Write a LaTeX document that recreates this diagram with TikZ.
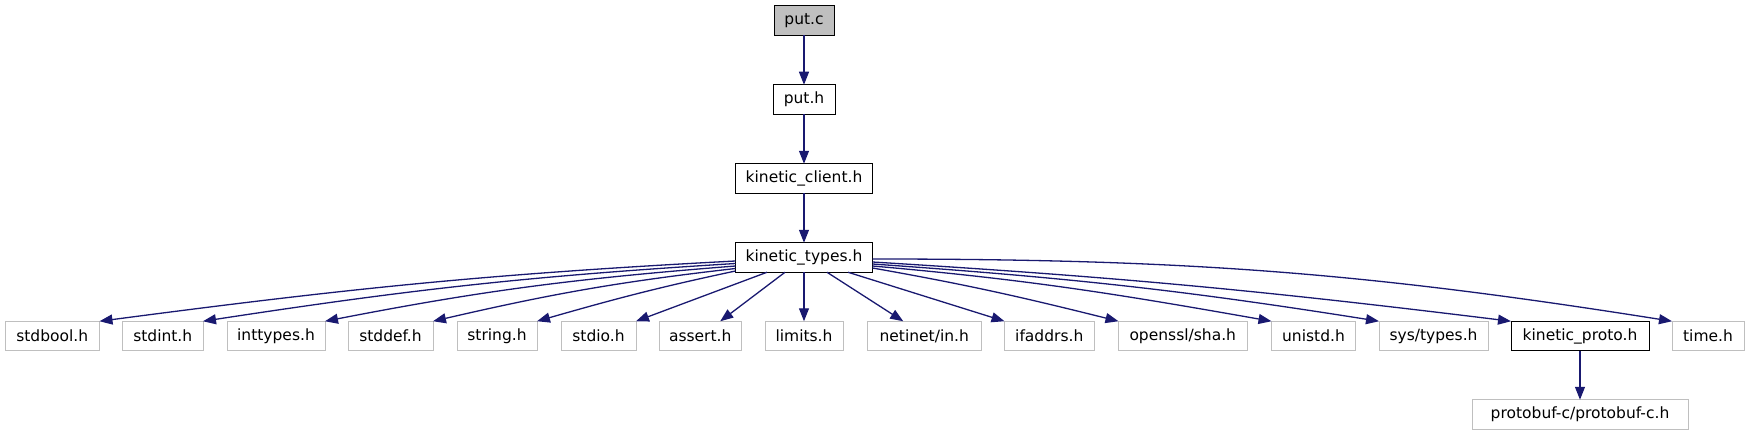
\documentclass[tikz,border=0pt]{standalone}
\usepackage{fontspec}
\setmainfont{DejaVu Sans}
\usetikzlibrary{arrows.meta}
\definecolor{boxgray}{RGB}{191,191,191}
\definecolor{linkblue}{RGB}{25,25,112}
\begin{document}
\begin{tikzpicture}[x=1pt,y=-1pt,>={Triangle[length=13pt,width=10pt]}]

\tikzstyle{hnode}=[rectangle,inner sep=0pt,outer sep=0pt,minimum height=29.5pt,line width=1pt,draw=black,font=\fontsize{15.5}{18}\selectfont]
\tikzstyle{sysnode}=[hnode,draw=boxgray]
\tikzstyle{srcnode}=[hnode,fill=boxgray]
\tikzstyle{dep}=[->,line width=1.3pt,color=linkblue]

\useasboundingbox (0,0) rectangle (1749,436);

\begin{scope}[]

\node [hnode,minimum width=137pt] (kt) at (804,257.5){kinetic\_types.h};
\node [anchor=south,hnode,minimum width=137pt] (kc) at ([xshift=0pt,yshift=49.5pt]kt.north){kinetic\_client.h};
\node [anchor=south,hnode,minimum width=62pt] (ph) at ([xshift=0pt,yshift=49.5pt]kc.north){put.h};
\node [anchor=south,srcnode,minimum width=60pt] (pc) at ([xshift=0pt,yshift=49.5pt]ph.north){put.c};

\node [anchor=west,sysnode,minimum width=94.5pt] (sb) at (5,336){stdbool.h};
\node [anchor=west,sysnode,minimum width=80.5pt] (si) at ([xshift=23pt,yshift=0pt]sb.east){stdint.h};
\node [anchor=west,sysnode,minimum width=98pt] (it) at ([xshift=24pt,yshift=0pt]si.east){inttypes.h};
\node [anchor=west,sysnode,minimum width=85pt] (sd) at ([xshift=23pt,yshift=0pt]it.east){stddef.h};
\node [anchor=west,sysnode,minimum width=80pt] (sg) at ([xshift=24pt,yshift=0pt]sd.east){string.h};
\node [anchor=west,sysnode,minimum width=75pt] (sio) at ([xshift=24pt,yshift=0pt]sg.east){stdio.h};
\node [anchor=west,sysnode,minimum width=82.5pt] (as) at ([xshift=23pt,yshift=0pt]sio.east){assert.h};
\node [anchor=west,sysnode,minimum width=78pt] (li) at ([xshift=23.5pt,yshift=0pt]as.east){limits.h};
\node [anchor=west,sysnode,minimum width=113.5pt] (ni) at ([xshift=24.5pt,yshift=0pt]li.east){netinet/in.h};
\node [anchor=west,sysnode,minimum width=89.5pt] (ia) at ([xshift=23.5pt,yshift=0pt]ni.east){ifaddrs.h};
\node [anchor=west,sysnode,minimum width=128.5pt] (os) at ([xshift=24.5pt,yshift=0pt]ia.east){openssl/sha.h};
\node [anchor=west,sysnode,minimum width=84pt] (un) at ([xshift=24.5pt,yshift=0pt]os.east){unistd.h};
\node [anchor=west,sysnode,minimum width=109pt] (st) at ([xshift=23.5pt,yshift=0pt]un.east){sys/types.h};
\node [anchor=west,hnode,minimum width=138pt] (kp) at ([xshift=23pt,yshift=0pt]st.east){kinetic\_proto.h};
\node [anchor=west,sysnode,minimum width=72pt] (tm) at ([xshift=23pt,yshift=0pt]kp.east){time.h};
\node [anchor=north,sysnode,minimum width=216pt] (pb) at ([xshift=0pt,yshift=-49pt]kp.south){protobuf-c/protobuf-c.h};


\draw[dep] ([xshift=0pt,yshift=0pt]pc.south)--([xshift=0pt,yshift=0pt]ph.north);
\draw[dep] ([xshift=0pt,yshift=0pt]ph.south)--([xshift=0pt,yshift=0pt]kc.north);
\draw[dep] ([xshift=0pt,yshift=0pt]kc.south)--([xshift=0pt,yshift=0pt]kt.north);
\draw[dep] ([xshift=0pt,yshift=0pt]kp.south)--([xshift=0pt,yshift=0pt]pb.north);


\draw[dep] ([xshift=0pt,yshift=-3.5pt]kt.west) to[out=183,in=7.5] (sb.north east);
\draw[dep] ([xshift=0pt,yshift=-6pt]kt.west) to[out=183.5,in=8.7] (si.north east);
\draw[dep] ([xshift=0pt,yshift=-8.5pt]kt.west) to[out=184.5,in=11] (it.north east);
\draw[dep] ([xshift=0pt,yshift=-11pt]kt.west) to[out=186.5,in=13] (sd.north east);
\draw[dep] ([xshift=0pt,yshift=-13.5pt]kt.west) to[out=192,in=16] (sg.north east);
\draw[dep] ([xshift=-37pt,yshift=0pt]kt.south)--([xshift=0pt,yshift=0pt]sio.north east);
\draw[dep] ([xshift=-19pt,yshift=0pt]kt.south)--([xshift=20pt,yshift=0pt]as.north);
\draw[dep] ([xshift=0pt,yshift=0pt]kt.south)--([xshift=0pt,yshift=0pt]li.north);
\draw[dep] ([xshift=23pt,yshift=0pt]kt.south)--([xshift=-21pt,yshift=0pt]ni.north);
\draw[dep] ([xshift=44pt,yshift=0pt]kt.south)--([xshift=0pt,yshift=0pt]ia.north west);
\draw[dep] ([xshift=0pt,yshift=-10.5pt]kt.east) to[out=-10,in=166] (os.north west);
\draw[dep] ([xshift=0pt,yshift=-8.5pt]kt.east) to[out=-5,in=170] (un.north west);
\draw[dep] ([xshift=0pt,yshift=-6.5pt]kt.east) to[out=-4,in=171] (st.north west);
\draw[dep] ([xshift=0pt,yshift=-4.5pt]kt.east) to[out=-3.5,in=173] (kp.north west);
\draw[dep] ([xshift=0pt,yshift=-1.5pt]kt.east) to[out=0,in=171] (tm.north west);

\end{scope}
\end{tikzpicture}
\end{document}
